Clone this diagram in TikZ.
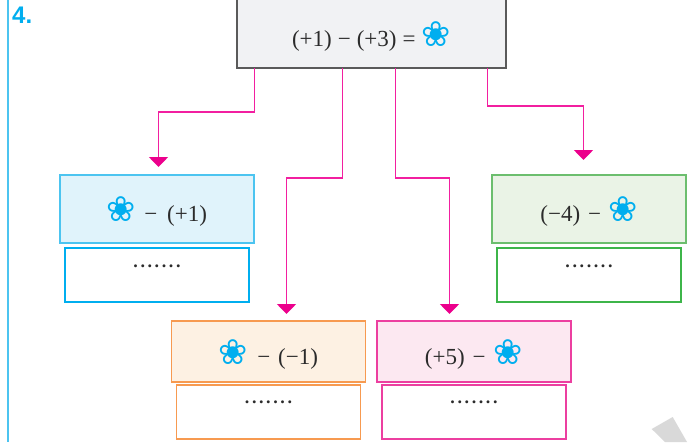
\documentclass[tikz,border=0pt]{standalone}
\usepackage{fontspec}
\setmainfont{Liberation Serif}
\setsansfont{Liberation Sans}
\newfontfamily\flowerfont{DejaVu Sans}
\usetikzlibrary{arrows.meta,calc}
\definecolor{inkc}{HTML}{2B2B2B}
\definecolor{cyanc}{HTML}{00AEEF}
\definecolor{rulec}{HTML}{4CC4F0}
\definecolor{connc}{HTML}{F21FA0}
\definecolor{tipc}{HTML}{EC008C}
\definecolor{greenline}{HTML}{6CBE6E}
\definecolor{greenans}{HTML}{3DB54A}
\definecolor{greenfill}{HTML}{EAF3E6}
\definecolor{orangeline}{HTML}{F79A50}
\definecolor{orangefill}{HTML}{FDF1E3}
\definecolor{pinkline}{HTML}{EC3FA0}
\definecolor{pinkfill}{HTML}{FCE8F1}
\definecolor{bluefill}{HTML}{E0F3FB}
\definecolor{topfill}{HTML}{F1F2F4}
\definecolor{topline}{HTML}{5A5A5A}
\newcommand{\flwr}{{\flowerfont\color{cyanc}\fontsize{35}{35}\selectfont\raisebox{0pt}[0pt][0pt]{❀}}}
\newcommand{\mn}{\kern6pt−\kern6pt}
\newcommand{\dotrow}{.\kern2.6pt.\kern2.6pt.\kern2.6pt.\kern2.6pt.\kern2.6pt.\kern2.6pt.}
\tikzset{
  exprbox/.style={draw,line width=1.3pt,outer sep=0pt,inner sep=0pt,text=inkc,
    font=\fontsize{23}{26}\selectfont,minimum width=194pt,minimum height=#1},
  ansbox/.style={draw,line width=1.1pt,outer sep=0pt,inner sep=0pt,fill=white,
    minimum width=184pt,minimum height=54pt},
  dotlabel/.style={text=inkc,inner sep=0pt,font=\bfseries\fontsize{18}{18}\selectfont},
  conn/.style={draw=connc,line width=1.7pt,
    -{Triangle[width=19pt,length=10pt,color=tipc,sep=0pt]}}
}
\begin{document}
\begin{tikzpicture}[x=1pt,y=-1pt]
\useasboundingbox (0,0) rectangle (693,442);
\fill[white] (0,0) rectangle (693,442);
\fill[black!15] (651.7,429) -- (672.7,417) -- (687,442) -- (665,442) -- cycle;
\draw[rulec,line width=2.2pt] (8,0) -- (8,442);
\node[anchor=west,inner sep=0pt,text=cyanc] (num) at (12,15)
  {\sffamily\bfseries\fontsize{24}{24}\selectfont 4.};

\node[exprbox=69pt,minimum width=269pt,draw=topline,fill=topfill,text height=32pt,text depth=6pt] (top) at (371.5,33.5)
  {(+1)\mn(+3)\kern6pt=\kern6pt\flwr};

\node[exprbox=68pt,draw=rulec,fill=bluefill,text height=31pt,text depth=6pt] (blue) at (157,209) {\flwr\kern8pt−\kern10pt(+1)};
\node[ansbox,draw=cyanc] (blueans) at (157,275) {};
\node[dotlabel] (bluedots) at (157,266) {\dotrow};

\node[exprbox=68pt,draw=greenline,fill=greenfill,text height=31pt,text depth=6pt] (green) at (589,209) {(−4)\kern8pt−\kern7pt\flwr};
\node[ansbox,draw=greenans] (greenans) at (589,275) {};
\node[dotlabel] (greendots) at (589,266) {\dotrow};

\node[exprbox=61pt,draw=orangeline,fill=orangefill,text height=32pt,text depth=6pt] (orange) at (268.5,351.5) {\flwr\kern9pt−\kern8pt(−1)};
\node[ansbox,draw=orangeline] (orangeans) at (268.5,412) {};
\node[dotlabel] (orangedots) at (268.5,402.5) {\dotrow};

\node[exprbox=61pt,draw=pinkline,fill=pinkfill,text height=32pt,text depth=6pt] (pink) at (474,351.5) {(+5)\kern8pt−\kern8pt\flwr};
\node[ansbox,draw=pinkline] (pinkans) at (474,412) {};
\node[dotlabel] (pinkdots) at (474,402.5) {\dotrow};

\coordinate (tipa) at (158.5,167);
\coordinate (tipb) at (286.5,314);
\coordinate (tipc) at (449.5,314);
\coordinate (tipd) at (583.5,160);
\draw[conn] ($(top.south west)+(17.5,0)$) -- ++(0,44) -| (tipa);
\draw[conn] ($(top.south west)+(105.5,0)$) -- ++(0,110) -| (tipb);
\draw[conn] ($(top.south west)+(158.5,0)$) -- ++(0,110) -| (tipc);
\draw[conn] ($(top.south west)+(250.5,0)$) -- ++(0,38) -| (tipd);
\end{tikzpicture}
\end{document}
